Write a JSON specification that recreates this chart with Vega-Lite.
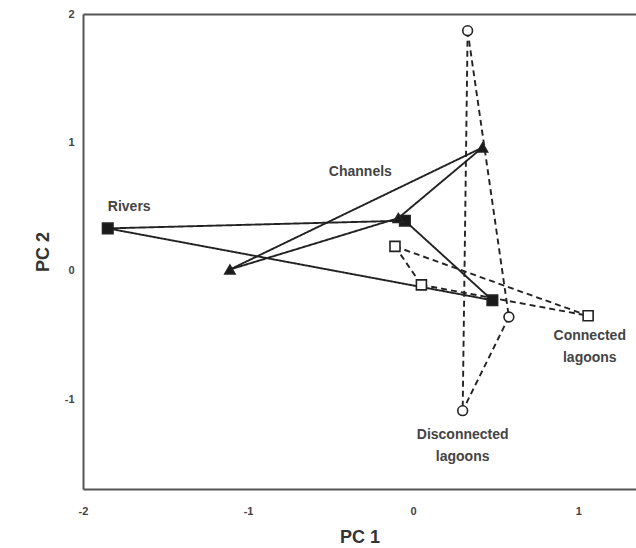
{
  "$schema": "https://vega.github.io/schema/vega-lite/v6.json",
  "autosize": "none",
  "width": 553,
  "height": 475,
  "padding": {"left": 83, "top": 14, "right": 0, "bottom": 59},
  "background": "white",
  "config": {
    "view": {"stroke": null},
    "font": "Liberation Sans",
    "axis": {
      "domainColor": "#555",
      "domainWidth": 2,
      "grid": false,
      "ticks": false,
      "labelFont": "Liberation Sans",
      "labelFontSize": 11,
      "labelFontWeight": "bold",
      "labelColor": "#444",
      "labelExpr": "'' + datum.value",
      "titleFont": "Liberation Sans",
      "titleFontSize": 18,
      "titleFontWeight": "bold",
      "titleColor": "#333"
    }
  },
  "datasets": {
    "points": [
      {"site": "Rivers", "pc1": -1.85, "pc2": 0.33},
      {"site": "Rivers", "pc1": -0.05, "pc2": 0.39},
      {"site": "Rivers", "pc1": 0.48, "pc2": -0.23},
      {"site": "Channels", "pc1": -1.11, "pc2": 0.01},
      {"site": "Channels", "pc1": -0.09, "pc2": 0.41},
      {"site": "Channels", "pc1": 0.42, "pc2": 0.96},
      {"site": "Connected lagoons", "pc1": -0.11, "pc2": 0.19},
      {"site": "Connected lagoons", "pc1": 0.05, "pc2": -0.11},
      {"site": "Connected lagoons", "pc1": 1.06, "pc2": -0.35},
      {"site": "Disconnected lagoons", "pc1": 0.33, "pc2": 1.87},
      {"site": "Disconnected lagoons", "pc1": 0.58, "pc2": -0.36},
      {"site": "Disconnected lagoons", "pc1": 0.30, "pc2": -1.09}
    ],
    "edges": [
      {"site": "Rivers", "style": "solid", "x1": -1.85, "y1": 0.33, "x2": -0.05, "y2": 0.39},
      {"site": "Rivers", "style": "solid", "x1": -1.85, "y1": 0.33, "x2": 0.48, "y2": -0.23},
      {"site": "Rivers", "style": "solid", "x1": -0.05, "y1": 0.39, "x2": 0.48, "y2": -0.23},
      {"site": "Channels", "style": "solid", "x1": -1.11, "y1": 0.01, "x2": -0.09, "y2": 0.41},
      {"site": "Channels", "style": "solid", "x1": -1.11, "y1": 0.01, "x2": 0.42, "y2": 0.96},
      {"site": "Channels", "style": "solid", "x1": -0.09, "y1": 0.41, "x2": 0.42, "y2": 0.96},
      {"site": "Connected lagoons", "style": "dashed", "x1": -0.11, "y1": 0.19, "x2": 0.05, "y2": -0.11},
      {"site": "Connected lagoons", "style": "dashed", "x1": -0.11, "y1": 0.19, "x2": 1.06, "y2": -0.35},
      {"site": "Connected lagoons", "style": "dashed", "x1": 0.05, "y1": -0.11, "x2": 1.06, "y2": -0.35},
      {"site": "Disconnected lagoons", "style": "dashed", "x1": 0.33, "y1": 1.87, "x2": 0.30, "y2": -1.09},
      {"site": "Disconnected lagoons", "style": "dashed", "x1": 0.33, "y1": 1.87, "x2": 0.58, "y2": -0.36},
      {"site": "Disconnected lagoons", "style": "dashed", "x1": 0.58, "y1": -0.36, "x2": 0.30, "y2": -1.09}
    ],
    "labels": [
      {"text": "Rivers", "pc1": -1.72, "pc2": 0.50},
      {"text": "Channels", "pc1": -0.32, "pc2": 0.77},
      {"text": "Connected", "pc1": 1.07, "pc2": -0.51},
      {"text": "lagoons", "pc1": 1.07, "pc2": -0.68},
      {"text": "Disconnected", "pc1": 0.30, "pc2": -1.28},
      {"text": "lagoons", "pc1": 0.30, "pc2": -1.45}
    ]
  },
  "resolve": {"axis": {"x": "independent", "y": "independent"}},
  "layer": [
    {
      "data": {"name": "edges"},
      "mark": {"type": "rule", "stroke": "#222", "strokeWidth": 1.9},
      "encoding": {
        "x": {"field": "x1", "type": "quantitative", "scale": {"domain": [-2, 1.35], "nice": false, "zero": false},
              "axis": {"orient": "bottom", "values": [-2, -1, 0, 1], "title": "PC 1", "labelPadding": 16, "titlePadding": 12, "labelFlush": false}},
        "y": {"field": "y1", "type": "quantitative", "scale": {"domain": [-1.7, 2], "nice": false, "zero": false},
              "axis": {"orient": "left", "values": [-1, 0, 1, 2], "title": "PC 2", "labelPadding": 9, "titlePadding": 12, "labelFlush": false}},
        "x2": {"field": "x2"},
        "y2": {"field": "y2"},
        "strokeDash": {"field": "style", "type": "nominal", "scale": {"domain": ["solid", "dashed"], "range": [[1, 0], [6, 4]]}, "legend": null}
      }
    },
    {
      "data": {"name": "points"},
      "mark": {"type": "point", "filled": true, "stroke": "#222", "strokeWidth": 1.6, "opacity": 1},
      "encoding": {
        "x": {"field": "pc1", "type": "quantitative",
              "axis": {"orient": "top", "labels": false, "title": null, "values": [-2, -1, 0, 1]}},
        "y": {"field": "pc2", "type": "quantitative", "axis": null},
        "shape": {"field": "site", "type": "nominal", "scale": {"domain": ["Rivers", "Channels", "Connected lagoons", "Disconnected lagoons"], "range": ["square", "triangle-up", "square", "circle"]}, "legend": null},
        "fill": {"field": "site", "type": "nominal", "scale": {"domain": ["Rivers", "Channels", "Connected lagoons", "Disconnected lagoons"], "range": ["#1a1a1a", "#1a1a1a", "white", "white"]}, "legend": null},
        "size": {"field": "site", "type": "nominal", "scale": {"domain": ["Rivers", "Channels", "Connected lagoons", "Disconnected lagoons"], "range": [110, 95, 70, 60]}, "legend": null}
      }
    },
    {
      "data": {"name": "labels"},
      "mark": {"type": "text", "font": "Liberation Sans", "fontSize": 14, "fontWeight": "bold", "fill": "#444", "align": "center", "baseline": "middle"},
      "encoding": {
        "x": {"field": "pc1", "type": "quantitative", "axis": null},
        "y": {"field": "pc2", "type": "quantitative", "axis": null},
        "text": {"field": "text"}
      }
    }
  ]
}
